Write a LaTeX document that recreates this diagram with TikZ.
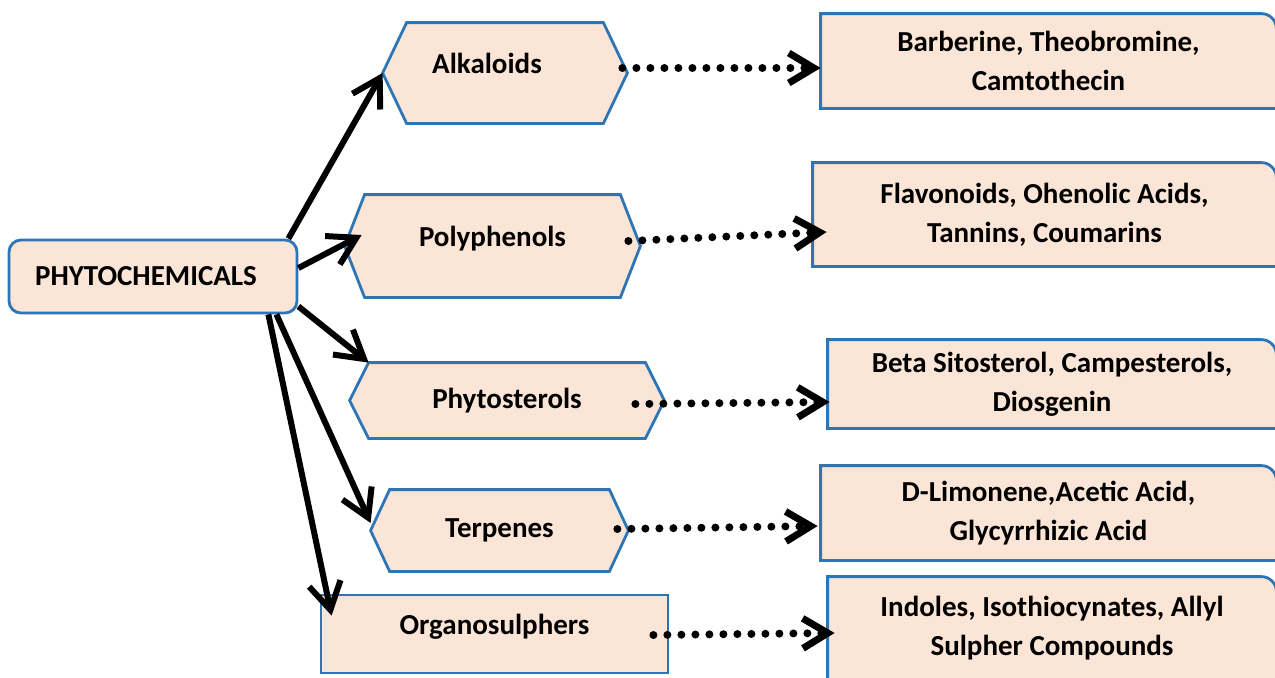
\documentclass[tikz,border=0pt]{standalone}
\usepackage{fontspec}
\setmainfont{Carlito}
\usepackage{tikz}
\usetikzlibrary{arrows.meta, backgrounds}
\definecolor{boxblue}{RGB}{46,117,182}
\definecolor{boxfill}{RGB}{251,229,214}

\begin{document}
\begin{tikzpicture}[
    x = 0.5pt, y = -0.5pt,
    txt/.style = {font=\bfseries\fontsize{14.5}{19.5}\selectfont, inner sep=0pt},
    rootbox/.style = {txt, rectangle, draw=boxblue, fill=boxfill, line width=1.4pt, rounded corners=6pt},
    hexbox/.style = {txt},
    sortbox/.style = {txt, rectangle, draw=boxblue, fill=boxfill, line width=1.4pt},
    listbox/.style = {txt, align=center},
    midline/.style = {text height=6pt, text depth=6pt},
    shapefill/.style = {draw=boxblue, fill=boxfill, line width=1.4pt},
    arrow/.style = {-{Straight Barb[length=13.5pt, width=16pt]}, line width=3pt},
    dotarrow/.style = {-{Straight Barb[length=12.5pt, width=15pt, line width=3.5pt]}, line width=4pt, line cap=round, dash pattern=on 0pt off 7pt}
]
\useasboundingbox (0,0) rectangle (1275,677);

% Root
\node (chem) [rootbox, minimum width=144pt, minimum height=36.5pt] at (153, 276.5) {PHYTOCHEMICALS\hspace*{7pt}};

% Classes
\node (alk) [hexbox, midline, minimum width=122pt, minimum height=50pt] at (505, 73) {Alkaloids\hspace*{18pt}};
\node (poly) [hexbox, midline, minimum width=147.5pt, minimum height=51pt] at (492.5, 246) {Polyphenols};
\node (phyto) [hexbox, minimum width=157pt, minimum height=37.5pt] at (507, 400.5) {Phytosterols};
\node (terp) [hexbox, minimum width=128.5pt, minimum height=40.5pt] at (499.5, 530.5) {Terpenes};
\node (organo) [sortbox, midline, minimum width=173.5pt, minimum height=39pt] at (494.5, 634) {Organosulphers};

% Examples
\node (r1) [listbox, minimum width=227.5pt, minimum height=47pt] at (1048.5, 61) {Barberine, Theobromine,\\Camtothecin};
\node (r2) [listbox, minimum width=231.5pt, minimum height=51.5pt] at (1044.5, 214.5) {Flavonoids, Ohenolic Acids,\\Tannins, Coumarins};
\node (r3) [listbox, minimum width=224pt, minimum height=44pt] at (1052, 384) {Beta Sitosterol, Campesterols,\\Diosgenin};
\node (r4) [listbox, minimum width=227.5pt, minimum height=47pt] at (1048.5, 513) {D-Limonene,Acetic Acid,\\Glycyrrhizic Acid};
\node (r5) [listbox, minimum width=224pt, minimum height=51pt] at (1052, 628) {Indoles, Isothiocynates, Allyl\\Sulpher Compounds};

% Outlines
\begin{scope}[on background layer]
\foreach \n/\i in {alk/12pt, poly/10pt, phyto/9.5pt, terp/9.5pt}
    \path [shapefill] (\n.west) -- ([xshift=\i]\n.north west) -- ([xshift=-\i]\n.north east) -- (\n.east)
        -- ([xshift=-\i]\n.south east) -- ([xshift=\i]\n.south west) -- cycle;
\foreach \n in {r1, r2, r3, r4, r5}
    \path [shapefill] (\n.south west) -- (\n.north west) -- ([xshift=-7.5pt]\n.north east)
        arc [start angle=90, end angle=0, radius=7.5pt] -- (\n.south east) -- cycle;
\end{scope}

% Arrows
\draw [arrow] ([xshift=-5pt]chem.north east) -- (alk.west);
\draw [arrow] ([yshift=4.25pt]chem.east) -- ([xshift=8.5pt, yshift=5.5pt]poly.west);
\draw [arrow] ([yshift=4pt]chem.south east) -- ([xshift=9.5pt]phyto.north west);
\draw [arrow] ([xshift=-11pt]chem.south east) -- ([yshift=3.75pt]terp.west);
\draw [arrow] ([xshift=-15pt]chem.south east) -- ([xshift=6pt, yshift=-11pt]organo.north west);

\draw [dotarrow] ([xshift=-2.5pt, yshift=2.5pt]alk.east) -- ([yshift=-3.5pt]r1.west);
\draw [dotarrow] ([xshift=-6pt, yshift=2.5pt]poly.east) -- ([xshift=7pt, yshift=-8.75pt]r2.west);
\draw [dotarrow] ([xshift=-14.5pt, yshift=-1.75pt]phyto.east) -- ([xshift=1pt, yshift=-9pt]r3.west);
\draw [dotarrow] ([xshift=-5.5pt, yshift=0.75pt]terp.east) -- ([xshift=-1.5pt, yshift=-6.5pt]r4.west);
\draw [dotarrow] ([xshift=-8pt, yshift=-0.5pt]organo.east) -- ([xshift=3.5pt, yshift=-2.5pt]r5.west);

\end{tikzpicture}
\end{document}
